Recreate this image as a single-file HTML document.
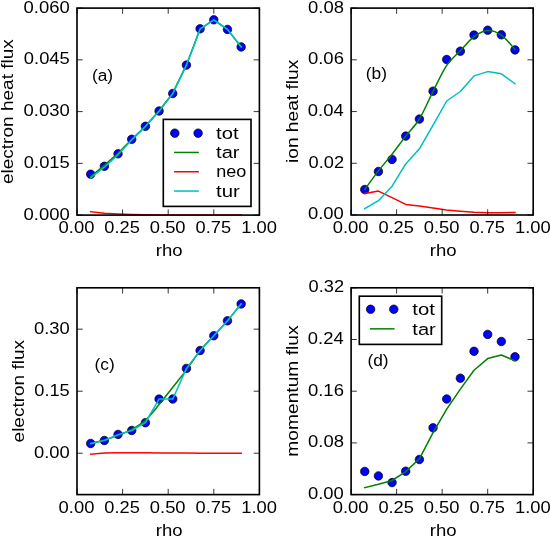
<!DOCTYPE html>
<html><head><meta charset="utf-8"><title>flux profiles</title>
<style>html,body{margin:0;padding:0;background:#fff;}body{width:550px;height:536px;overflow:hidden;}svg{display:block;will-change:transform;}text{font-family:"Liberation Sans",sans-serif;}</style>
</head><body>
<svg width="550" height="536" viewBox="0 0 550 536">
<rect width="550" height="536" fill="#fff"/>
<defs>
<clipPath id="clipa"><rect x="77.0" y="8.1" width="182.4" height="207"/></clipPath>
<clipPath id="clipb"><rect x="351.1" y="8.1" width="182.1" height="206.9"/></clipPath>
<clipPath id="clipc"><rect x="77.0" y="287.8" width="182.4" height="206.8"/></clipPath>
<clipPath id="clipd"><rect x="351.1" y="287.8" width="182.1" height="206.8"/></clipPath>
</defs>
<g clip-path="url(#clipa)">
<g fill="#0000ff" stroke="#000" stroke-width="0.7">
<circle cx="90.68" cy="174.2" r="4.25"/>
<circle cx="104.36" cy="166.3" r="4.25"/>
<circle cx="118.04" cy="153.8" r="4.25"/>
<circle cx="131.72" cy="139.3" r="4.25"/>
<circle cx="145.4" cy="126.3" r="4.25"/>
<circle cx="159.08" cy="111" r="4.25"/>
<circle cx="172.76" cy="93.5" r="4.25"/>
<circle cx="186.44" cy="65.1" r="4.25"/>
<circle cx="200.12" cy="28.8" r="4.25"/>
<circle cx="213.8" cy="19.8" r="4.25"/>
<circle cx="227.48" cy="29.4" r="4.25"/>
<circle cx="241.16" cy="46.9" r="4.25"/>
</g>
<g fill="none" stroke-width="1.5" stroke-linecap="square" stroke-linejoin="round">
<path d="M90.68,176.6 L104.36,165.4 L118.04,153.2 L131.72,139.4 L145.4,126.2 L159.08,110.8 L172.76,93.2 L186.44,64.9 L200.12,29 L213.8,19.8 L227.48,29.4 L241.16,46.9" stroke="#008000"/>
<path d="M90.68,211.7 L104.36,213.2 L118.04,214 L131.72,214.5 L145.4,214.8 L159.08,214.95 L172.76,215 L186.44,215.05 L200.12,215.1 L213.8,215.1 L227.48,215.1 L241.16,215.1" stroke="#ff0000"/>
<path d="M90.68,177.8 L104.36,167.2 L118.04,154.6 L131.72,139.9 L145.4,126.6 L159.08,111.2 L172.76,93.6 L186.44,65.1 L200.12,28.9 L213.8,19.8 L227.48,29.4 L241.16,46.9" stroke="#00bfbf"/>
</g></g>
<path d="M77,215.1 v-5.7 M77,8.1 v5.7 M122.6,215.1 v-5.7 M122.6,8.1 v5.7 M168.2,215.1 v-5.7 M168.2,8.1 v5.7 M213.8,215.1 v-5.7 M213.8,8.1 v5.7 M259.4,215.1 v-5.7 M259.4,8.1 v5.7 M77,215.1 h5.7 M259.4,215.1 h-5.7 M77,163.35 h5.7 M259.4,163.35 h-5.7 M77,111.6 h5.7 M259.4,111.6 h-5.7 M77,59.85 h5.7 M259.4,59.85 h-5.7 M77,8.1 h5.7 M259.4,8.1 h-5.7" stroke="#000" stroke-width="0.8" fill="none"/>
<rect x="77.0" y="8.1" width="182.4" height="207" fill="none" stroke="#000" stroke-width="1.63" stroke-linejoin="miter"/>
<g clip-path="url(#clipb)">
<g fill="#0000ff" stroke="#000" stroke-width="0.7">
<circle cx="364.76" cy="189.5" r="4.25"/>
<circle cx="378.42" cy="171.5" r="4.25"/>
<circle cx="392.07" cy="159.4" r="4.25"/>
<circle cx="405.73" cy="136.1" r="4.25"/>
<circle cx="419.39" cy="119.1" r="4.25"/>
<circle cx="433.05" cy="91.2" r="4.25"/>
<circle cx="446.7" cy="59.5" r="4.25"/>
<circle cx="460.36" cy="51.2" r="4.25"/>
<circle cx="474.02" cy="35.1" r="4.25"/>
<circle cx="487.68" cy="30.2" r="4.25"/>
<circle cx="501.33" cy="34.8" r="4.25"/>
<circle cx="514.99" cy="49.9" r="4.25"/>
</g>
<g fill="none" stroke-width="1.5" stroke-linecap="square" stroke-linejoin="round">
<path d="M364.76,189.5 C367.03,186.4 373.86,176.78 378.42,170.9 C382.97,165.02 387.52,160 392.07,154.2 C396.63,148.4 401.18,141.97 405.73,136.1 C410.28,130.23 414.84,126.45 419.39,119 C423.94,111.55 428.49,100.33 433.05,91.4 C437.6,82.47 442.15,72.17 446.7,65.4 C451.26,58.63 455.81,55.6 460.36,50.8 C464.91,46 469.47,39.98 474.02,36.6 C478.57,33.22 483.12,30.75 487.68,30.5 C492.23,30.25 496.78,31.95 501.33,35.1 C505.89,38.25 512.71,47.02 514.99,49.4" stroke="#008000"/>
<path d="M364.76,193.6 L378.42,191.1 L392.07,197.6 L405.73,204.4 L419.39,205.9 L433.05,207.9 L446.7,209.9 L460.36,211.2 L474.02,212.2 L487.68,212.7 L501.33,212.7 L514.99,212.5" stroke="#ff0000"/>
<path d="M364.76,208.7 L378.42,200.7 L392.07,186.2 L405.73,163.9 L419.39,148.8 L433.05,125.2 L446.7,101 L460.36,91.5 L474.02,75.9 L487.68,71.6 L501.33,73.8 L514.99,83.8" stroke="#00bfbf"/>
</g></g>
<path d="M351.1,215 v-5.7 M351.1,8.1 v5.7 M396.62,215 v-5.7 M396.62,8.1 v5.7 M442.15,215 v-5.7 M442.15,8.1 v5.7 M487.68,215 v-5.7 M487.68,8.1 v5.7 M533.2,215 v-5.7 M533.2,8.1 v5.7 M351.1,215 h5.7 M533.2,215 h-5.7 M351.1,163.28 h5.7 M533.2,163.28 h-5.7 M351.1,111.55 h5.7 M533.2,111.55 h-5.7 M351.1,59.82 h5.7 M533.2,59.82 h-5.7 M351.1,8.1 h5.7 M533.2,8.1 h-5.7" stroke="#000" stroke-width="0.8" fill="none"/>
<rect x="351.1" y="8.1" width="182.1" height="206.9" fill="none" stroke="#000" stroke-width="1.63" stroke-linejoin="miter"/>
<g clip-path="url(#clipc)">
<g fill="#0000ff" stroke="#000" stroke-width="0.7">
<circle cx="90.68" cy="443.5" r="4.25"/>
<circle cx="104.36" cy="440.5" r="4.25"/>
<circle cx="118.04" cy="434.4" r="4.25"/>
<circle cx="131.72" cy="430.5" r="4.25"/>
<circle cx="145.4" cy="422.7" r="4.25"/>
<circle cx="159.08" cy="399.1" r="4.25"/>
<circle cx="172.76" cy="399" r="4.25"/>
<circle cx="186.44" cy="368.4" r="4.25"/>
<circle cx="200.12" cy="350.5" r="4.25"/>
<circle cx="213.8" cy="335.7" r="4.25"/>
<circle cx="227.48" cy="320.8" r="4.25"/>
<circle cx="241.16" cy="303.9" r="4.25"/>
</g>
<g fill="none" stroke-width="1.5" stroke-linecap="square" stroke-linejoin="round">
<path d="M90.68,443.6 C92.96,443 99.8,441.37 104.36,440 C108.92,438.63 113.48,437.18 118.04,435.4 C122.6,433.62 127.16,431.82 131.72,429.3 C136.28,426.78 140.84,424.42 145.4,420.3 C149.96,416.18 154.52,410.1 159.08,404.6 C163.64,399.1 168.2,393.08 172.76,387.3 C177.32,381.52 181.88,376.02 186.44,369.9 C191,363.78 195.56,356.3 200.12,350.6 C204.68,344.9 209.24,340.67 213.8,335.7 C218.36,330.73 222.92,326.1 227.48,320.8 C232.04,315.5 238.88,306.72 241.16,303.9" stroke="#008000"/>
<path d="M90.68,454.2 L104.36,453 L118.04,452.7 L131.72,452.7 L145.4,452.8 L159.08,452.9 L172.76,453 L186.44,453.1 L200.12,453.2 L213.8,453.2 L227.48,453.2 L241.16,453.2" stroke="#ff0000"/>
<path d="M90.68,443.5 L104.36,440.5 L118.04,434.6 L131.72,430.5 L145.4,422.5 L159.08,399.1 L172.76,399 L186.44,368.4 L200.12,350.5 L213.8,335.7 L227.48,320.8 L241.16,303.9" stroke="#00bfbf"/>
</g></g>
<path d="M77,494.6 v-5.7 M77,287.8 v5.7 M122.6,494.6 v-5.7 M122.6,287.8 v5.7 M168.2,494.6 v-5.7 M168.2,287.8 v5.7 M213.8,494.6 v-5.7 M213.8,287.8 v5.7 M259.4,494.6 v-5.7 M259.4,287.8 v5.7 M77,453.24 h5.7 M259.4,453.24 h-5.7 M77,391.2 h5.7 M259.4,391.2 h-5.7 M77,329.16 h5.7 M259.4,329.16 h-5.7" stroke="#000" stroke-width="0.8" fill="none"/>
<rect x="77.0" y="287.8" width="182.4" height="206.8" fill="none" stroke="#000" stroke-width="1.63" stroke-linejoin="miter"/>
<g clip-path="url(#clipd)">
<g fill="#0000ff" stroke="#000" stroke-width="0.7">
<circle cx="364.76" cy="471.4" r="4.25"/>
<circle cx="378.42" cy="475.9" r="4.25"/>
<circle cx="392.07" cy="482.6" r="4.25"/>
<circle cx="405.73" cy="471.2" r="4.25"/>
<circle cx="419.39" cy="459.5" r="4.25"/>
<circle cx="433.05" cy="427.8" r="4.25"/>
<circle cx="446.7" cy="399" r="4.25"/>
<circle cx="460.36" cy="378.2" r="4.25"/>
<circle cx="474.02" cy="351.3" r="4.25"/>
<circle cx="487.68" cy="334.4" r="4.25"/>
<circle cx="501.33" cy="341.5" r="4.25"/>
<circle cx="514.99" cy="356.8" r="4.25"/>
</g>
<g fill="none" stroke-width="1.5" stroke-linecap="square" stroke-linejoin="round">
<path d="M364.76,487.7 L378.42,484.3 L392.07,480.5 L405.73,471.6 L419.39,458.8 L433.05,432.6 L446.7,409.2 L460.36,389.1 L474.02,370.2 L487.68,358.6 L501.33,355 L514.99,360.8" stroke="#008000"/>
</g></g>
<path d="M351.1,494.6 v-5.7 M351.1,287.8 v5.7 M396.62,494.6 v-5.7 M396.62,287.8 v5.7 M442.15,494.6 v-5.7 M442.15,287.8 v5.7 M487.68,494.6 v-5.7 M487.68,287.8 v5.7 M533.2,494.6 v-5.7 M533.2,287.8 v5.7 M351.1,494.6 h5.7 M533.2,494.6 h-5.7 M351.1,442.9 h5.7 M533.2,442.9 h-5.7 M351.1,391.2 h5.7 M533.2,391.2 h-5.7 M351.1,339.5 h5.7 M533.2,339.5 h-5.7 M351.1,287.8 h5.7 M533.2,287.8 h-5.7" stroke="#000" stroke-width="0.8" fill="none"/>
<rect x="351.1" y="287.8" width="182.1" height="206.8" fill="none" stroke="#000" stroke-width="1.63" stroke-linejoin="miter"/>
<rect x="163.3" y="119.4" width="87.7" height="87" fill="#fff" stroke="#000" stroke-width="1.63"/>
<circle cx="174.8" cy="133.15" r="4.25" fill="#0000ff" stroke="#000" stroke-width="0.7"/>
<circle cx="198.1" cy="133.15" r="4.25" fill="#0000ff" stroke="#000" stroke-width="0.7"/>
<path d="M174.8,152.45 H198.1" stroke="#008000" stroke-width="1.5" stroke-linecap="square"/>
<path d="M174.8,171.75 H198.1" stroke="#ff0000" stroke-width="1.5" stroke-linecap="square"/>
<path d="M174.8,191.05 H198.1" stroke="#00bfbf" stroke-width="1.5" stroke-linecap="square"/>
<rect x="359.3" y="296.2" width="82.4" height="48.2" fill="#fff" stroke="#000" stroke-width="1.63"/>
<circle cx="370.6" cy="309.25" r="4.25" fill="#0000ff" stroke="#000" stroke-width="0.7"/>
<circle cx="393.8" cy="309.25" r="4.25" fill="#0000ff" stroke="#000" stroke-width="0.7"/>
<path d="M370.6,328.85 H393.8" stroke="#008000" stroke-width="1.5" stroke-linecap="square"/>
<g font-size="17.2" fill="#000">
<text x="216.08" y="138.7" textLength="22.52" lengthAdjust="spacingAndGlyphs">tot</text>
<text x="216.09" y="158" textLength="23.42" lengthAdjust="spacingAndGlyphs">tar</text>
<text x="216.24" y="177.4" textLength="30.09" lengthAdjust="spacingAndGlyphs">neo</text>
<text x="216.08" y="196.6" textLength="23.77" lengthAdjust="spacingAndGlyphs">tur</text>
<text x="412.33" y="314.8" textLength="22.52" lengthAdjust="spacingAndGlyphs">tot</text>
<text x="412.34" y="334.5" textLength="23.42" lengthAdjust="spacingAndGlyphs">tar</text>
<text x="23.5" y="219.5" textLength="46.22" lengthAdjust="spacingAndGlyphs">0.000</text>
<text x="23.85" y="167.75" textLength="45.92" lengthAdjust="spacingAndGlyphs">0.015</text>
<text x="23.5" y="116" textLength="46.22" lengthAdjust="spacingAndGlyphs">0.030</text>
<text x="23.85" y="64.25" textLength="45.92" lengthAdjust="spacingAndGlyphs">0.045</text>
<text x="23.5" y="12.5" textLength="46.22" lengthAdjust="spacingAndGlyphs">0.060</text>
<text x="58.61" y="233" textLength="35.78" lengthAdjust="spacingAndGlyphs">0.00</text>
<text x="104.39" y="233" textLength="35.48" lengthAdjust="spacingAndGlyphs">0.25</text>
<text x="149.81" y="233" textLength="35.78" lengthAdjust="spacingAndGlyphs">0.50</text>
<text x="195.59" y="233" textLength="35.48" lengthAdjust="spacingAndGlyphs">0.75</text>
<text x="241.19" y="233" textLength="35.74" lengthAdjust="spacingAndGlyphs">1.00</text>
<text x="155.78" y="255.7" textLength="26.79" lengthAdjust="spacingAndGlyphs">rho</text>
<text x="308.04" y="219.4" textLength="35.78" lengthAdjust="spacingAndGlyphs">0.00</text>
<text x="308.6" y="167.68" textLength="35.42" lengthAdjust="spacingAndGlyphs">0.02</text>
<text x="307.87" y="115.95" textLength="35.77" lengthAdjust="spacingAndGlyphs">0.04</text>
<text x="307.98" y="64.22" textLength="35.93" lengthAdjust="spacingAndGlyphs">0.06</text>
<text x="308.07" y="12.5" textLength="35.83" lengthAdjust="spacingAndGlyphs">0.08</text>
<text x="332.71" y="232.9" textLength="35.78" lengthAdjust="spacingAndGlyphs">0.00</text>
<text x="378.41" y="232.9" textLength="35.48" lengthAdjust="spacingAndGlyphs">0.25</text>
<text x="423.76" y="232.9" textLength="35.78" lengthAdjust="spacingAndGlyphs">0.50</text>
<text x="469.46" y="232.9" textLength="35.48" lengthAdjust="spacingAndGlyphs">0.75</text>
<text x="514.99" y="232.9" textLength="35.74" lengthAdjust="spacingAndGlyphs">1.00</text>
<text x="429.73" y="255.6" textLength="26.79" lengthAdjust="spacingAndGlyphs">rho</text>
<text x="33.94" y="457.64" textLength="35.78" lengthAdjust="spacingAndGlyphs">0.00</text>
<text x="34.29" y="395.6" textLength="35.48" lengthAdjust="spacingAndGlyphs">0.15</text>
<text x="33.94" y="333.56" textLength="35.78" lengthAdjust="spacingAndGlyphs">0.30</text>
<text x="58.61" y="512.5" textLength="35.78" lengthAdjust="spacingAndGlyphs">0.00</text>
<text x="104.39" y="512.5" textLength="35.48" lengthAdjust="spacingAndGlyphs">0.25</text>
<text x="149.81" y="512.5" textLength="35.78" lengthAdjust="spacingAndGlyphs">0.50</text>
<text x="195.59" y="512.5" textLength="35.48" lengthAdjust="spacingAndGlyphs">0.75</text>
<text x="241.19" y="512.5" textLength="35.74" lengthAdjust="spacingAndGlyphs">1.00</text>
<text x="155.78" y="536" textLength="26.79" lengthAdjust="spacingAndGlyphs">rho</text>
<text x="308.04" y="499" textLength="35.78" lengthAdjust="spacingAndGlyphs">0.00</text>
<text x="308.07" y="447.3" textLength="35.83" lengthAdjust="spacingAndGlyphs">0.08</text>
<text x="307.98" y="395.6" textLength="35.93" lengthAdjust="spacingAndGlyphs">0.16</text>
<text x="307.87" y="343.9" textLength="35.77" lengthAdjust="spacingAndGlyphs">0.24</text>
<text x="308.6" y="292.2" textLength="35.42" lengthAdjust="spacingAndGlyphs">0.32</text>
<text x="332.71" y="512.5" textLength="35.78" lengthAdjust="spacingAndGlyphs">0.00</text>
<text x="378.41" y="512.5" textLength="35.48" lengthAdjust="spacingAndGlyphs">0.25</text>
<text x="423.76" y="512.5" textLength="35.78" lengthAdjust="spacingAndGlyphs">0.50</text>
<text x="469.46" y="512.5" textLength="35.48" lengthAdjust="spacingAndGlyphs">0.75</text>
<text x="514.99" y="512.5" textLength="35.74" lengthAdjust="spacingAndGlyphs">1.00</text>
<text x="429.73" y="536" textLength="26.79" lengthAdjust="spacingAndGlyphs">rho</text>
<text transform="translate(13,184.11) rotate(-90)" x="0" y="0" textLength="145.01" lengthAdjust="spacingAndGlyphs">electron heat flux</text>
<text transform="translate(297.7,162.98) rotate(-90)" x="0" y="0" textLength="103.19" lengthAdjust="spacingAndGlyphs">ion heat flux</text>
<text transform="translate(23.7,442.41) rotate(-90)" x="0" y="0" textLength="102.41" lengthAdjust="spacingAndGlyphs">electron flux</text>
<text transform="translate(297.6,456.67) rotate(-90)" x="0" y="0" textLength="131.18" lengthAdjust="spacingAndGlyphs">momentum flux</text>
</g>
<g font-size="17.3" fill="#000">
<text x="92.0" y="80.9">(a)</text>
<text x="365.8" y="79.3">(b)</text>
<text x="94.5" y="369.5">(c)</text>
<text x="367.4" y="366.2">(d)</text>
</g>
</svg>
</body></html>
